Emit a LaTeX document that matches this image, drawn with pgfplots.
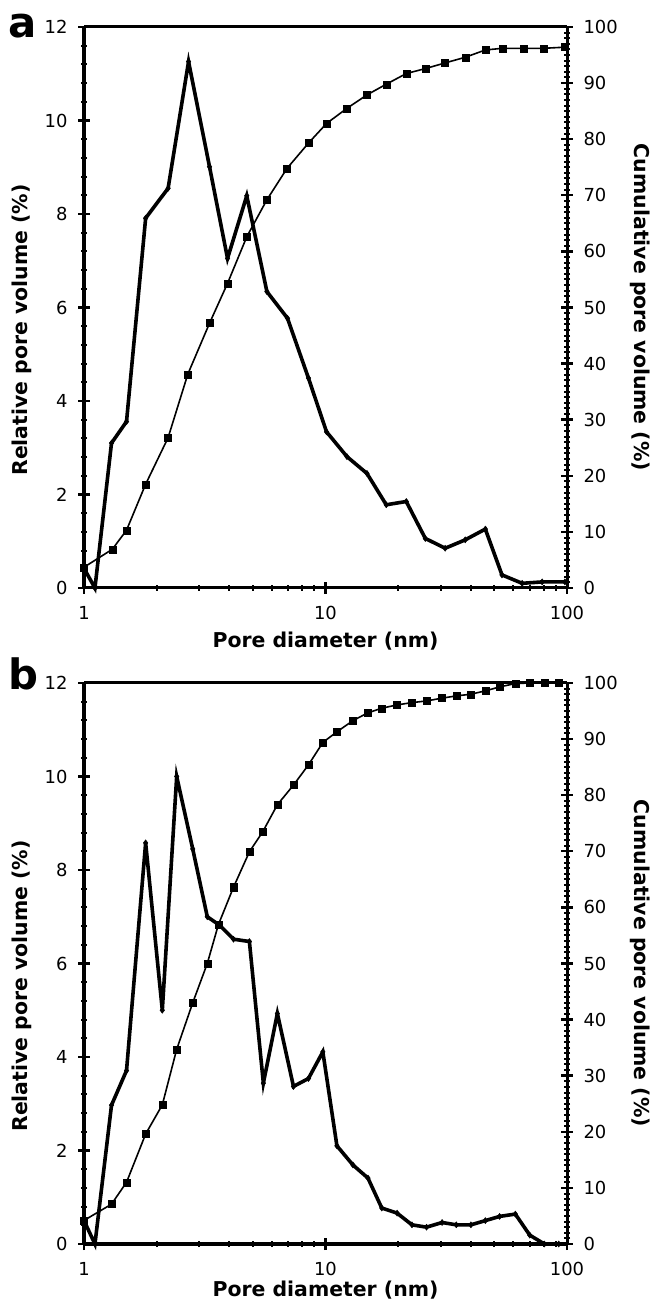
\documentclass[border=0pt]{standalone}
\usepackage{fontspec}
\setmainfont{DejaVu Sans}
\usepackage{pgfplots}
\pgfplotsset{compat=1.18}

\begin{document}
\begin{tikzpicture}
\path[use as bounding box] (0,0) rectangle (650bp,1308bp);

% ---------- panel a ----------
\begin{axis}[at={(84bp,720bp)}, anchor=south west,
    xmode=log, xmin=1, xmax=100, width=483bp, height=561bp, scale only axis,
    tick align=center, major tick length=12bp, minor tick length=6bp,
    major tick style={line width=2.4bp, black},
    minor tick style={line width=2bp, black},
    axis line style={line width=3bp},
    tick label style={font=\fontsize{18}{20}\selectfont},
    label style={font=\bfseries\fontsize{20.5}{23}\selectfont},
    clip=false,
    ymin=0, ymax=12, ytick={0,2,...,12}, minor y tick num=4,
    xtick={1,10,100}, xticklabels={1,10,100},
    minor xtick={2,3,4,5,6,7,8,9,20,30,40,50,60,70,80,90},
    xtick pos=bottom, ytick pos=left,
    axis x line*=bottom, axis y line*=left,
    ylabel={Relative pore volume (\%)},
    xlabel={Pore diameter (nm)},
    ylabel style={at={(axis description cs:-0.128,0.46)}, anchor=center},
    xlabel style={at={(axis description cs:0.5,-0.0945)}, anchor=center},
    yticklabel={\pgfmathprintnumber[assume math mode=true]{\tick}},
    yticklabel style={xshift=-7bp},
    xticklabel style={yshift=-9bp},
  ]
\draw[line width=3bp] (axis cs:1,12) -- (axis cs:100,12);
\addplot[line width=3.6bp, black, mark=diamond*, mark size=3bp, mark options={solid, line width=0.5bp}] coordinates {
(1.0,0.42) (1.11,0) (1.30,3.10) (1.50,3.56) (1.80,7.91) (2.23,8.55) (2.71,11.26)
(3.31,9.01) (3.93,7.05) (4.72,8.39) (5.72,6.34) (6.96,5.77) (8.50,4.49) (10.1,3.34)
(12.27,2.81) (14.85,2.45) (17.85,1.78) (21.6,1.85) (25.9,1.06) (31.3,0.85) (37.9,1.03)
(45.9,1.26) (53.8,0.28) (65.2,0.10) (78.9,0.13) (98,0.13)
};
\end{axis}
\begin{axis}[at={(84bp,720bp)}, anchor=south west,
    xmode=log, xmin=1, xmax=100, width=483bp, height=561bp, scale only axis,
    tick align=center, major tick length=12bp, minor tick length=6bp,
    major tick style={line width=2.4bp, black},
    minor tick style={line width=2bp, black},
    axis line style={line width=3bp},
    tick label style={font=\fontsize{18}{20}\selectfont},
    label style={font=\bfseries\fontsize{20.5}{23}\selectfont},
    clip=false,
    ymin=0, ymax=100, ytick={0,10,...,100}, minor y tick num=9,
    axis y line*=right, axis x line=none,
    ylabel={Cumulative pore volume (\%)},
    ylabel style={rotate=180, at={(axis description cs:1.151,0.5)}, anchor=center},
    yticklabel={\pgfmathprintnumber[assume math mode=true]{\tick}},
    yticklabel style={xshift=7bp},
  ]
\addplot[line width=1.6bp, black, mark=square*, mark size=3.5bp, mark options={solid, line width=0.4bp}] coordinates {
(1.0,3.7) (1.31,6.9) (1.50,10.3) (1.80,18.5) (2.23,26.8) (2.69,38.1) (3.31,47.2)
(3.93,54.3) (4.72,62.6) (5.72,69.2) (6.93,74.8) (8.5,79.3) (10.1,82.8) (12.27,85.5)
(14.85,87.9) (17.85,89.8) (21.6,91.7) (26,92.6) (31.3,93.6) (37.9,94.6) (45.9,95.9)
(54,96.2) (66,96.2) (80,96.2) (98,96.4)
};
\end{axis}
\node[font=\bfseries\fontsize{42}{42}\selectfont] at (23bp,1281.5bp) {a};

% ---------- panel b ----------
\begin{axis}[at={(84bp,64bp)}, anchor=south west,
    xmode=log, xmin=1, xmax=100, width=483bp, height=561bp, scale only axis,
    tick align=center, major tick length=12bp, minor tick length=6bp,
    major tick style={line width=2.4bp, black},
    minor tick style={line width=2bp, black},
    axis line style={line width=3bp},
    tick label style={font=\fontsize{18}{20}\selectfont},
    label style={font=\bfseries\fontsize{20.5}{23}\selectfont},
    clip=false,
    ymin=0, ymax=12, ytick={0,2,...,12}, minor y tick num=4,
    xtick={1,10,100}, xticklabels={1,10,100},
    minor xtick={2,3,4,5,6,7,8,9,20,30,40,50,60,70,80,90},
    xtick pos=bottom, ytick pos=left,
    axis x line*=bottom, axis y line*=left,
    ylabel={Relative pore volume (\%)},
    xlabel={Pore diameter (nm)},
    ylabel style={at={(axis description cs:-0.128,0.46)}, anchor=center},
    xlabel style={at={(axis description cs:0.5,-0.082)}, anchor=center},
    yticklabel={\pgfmathprintnumber[assume math mode=true]{\tick}},
    yticklabel style={xshift=-7bp},
    xticklabel style={yshift=-9bp},
  ]
\draw[line width=3bp] (axis cs:1,12) -- (axis cs:100,12);
\addplot[line width=3.6bp, black, mark=diamond*, mark size=3bp, mark options={solid, line width=0.5bp}] coordinates {
(1.0,0.5) (1.11,0) (1.30,2.97) (1.50,3.71) (1.80,8.58) (2.11,5.0) (2.42,10.0)
(2.82,8.45) (3.24,7.0) (3.64,6.82) (4.16,6.52) (4.84,6.47) (5.53,3.44) (6.32,4.93)
(7.37,3.37) (8.5,3.54) (9.75,4.11) (11.15,2.10) (12.99,1.69) (14.99,1.41) (17.1,0.77)
(19.8,0.66) (22.8,0.41) (26.2,0.36) (30.4,0.46) (34.8,0.41) (40.0,0.41) (45.9,0.50)
(52.6,0.59) (61.1,0.64) (70.1,0.19) (80.6,0) (92.4,0)
};
\end{axis}
\begin{axis}[at={(84bp,64bp)}, anchor=south west,
    xmode=log, xmin=1, xmax=100, width=483bp, height=561bp, scale only axis,
    tick align=center, major tick length=12bp, minor tick length=6bp,
    major tick style={line width=2.4bp, black},
    minor tick style={line width=2bp, black},
    axis line style={line width=3bp},
    tick label style={font=\fontsize{18}{20}\selectfont},
    label style={font=\bfseries\fontsize{20.5}{23}\selectfont},
    clip=false,
    ymin=0, ymax=100, ytick={0,10,...,100}, minor y tick num=9,
    axis y line*=right, axis x line=none,
    ylabel={Cumulative pore volume (\%)},
    ylabel style={rotate=180, at={(axis description cs:1.151,0.5)}, anchor=center},
    yticklabel={\pgfmathprintnumber[assume math mode=true]{\tick}},
    yticklabel style={xshift=7bp},
  ]
\addplot[line width=1.6bp, black, mark=square*, mark size=3.5bp, mark options={solid, line width=0.4bp}] coordinates {
(1.0,4.2) (1.30,7.1) (1.50,11.0) (1.80,19.6) (2.11,24.8) (2.42,34.7) (2.82,43.0)
(3.24,50.0) (3.6,56.9) (4.16,63.6) (4.84,69.9) (5.5,73.5) (6.32,78.3) (7.37,81.8)
(8.5,85.4) (9.75,89.4) (11.15,91.3) (13,93.3) (15,94.7) (17.1,95.5) (19.8,96.1)
(22.8,96.5) (26.2,96.8) (30.4,97.3) (34.8,97.7) (40,98.0) (45.9,98.6) (52.6,99.3)
(61.1,99.9) (70,100) (80.6,100) (92.4,100)
};
\end{axis}
\node[font=\bfseries\fontsize{42}{42}\selectfont] at (23bp,634bp) {b};
\end{tikzpicture}
\end{document}
